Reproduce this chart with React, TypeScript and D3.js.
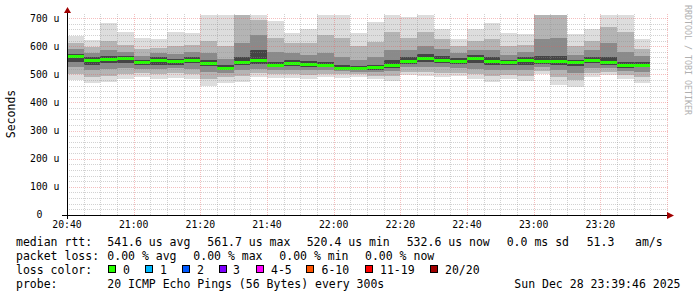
import React from "react";
import * as d3 from "d3";

// RTT samples per 5-minute step (microseconds), 35 steps from 20:40
const minRtt = [480, 468, 474, 482, 491, 482, 488, 482, 458, 470, 474, 490, 486, 486, 482, 491, 486, 491, 482, 477, 497, 493, 489, 493, 482, 474, 482, 477, 501, 462, 454, 491, 497, 483, 470];
const p10Rtt = [500, 490, 495, 500, 505, 500, 505, 500, 485, 490, 495, 505, 500, 500, 498, 503, 500, 500, 495, 495, 510, 508, 505, 505, 500, 495, 498, 495, 512, 490, 480, 505, 510, 498, 490];
const p25Rtt = [525, 515, 520, 522, 520, 518, 522, 520, 510, 505, 515, 520, 515, 515, 515, 515, 512, 510, 508, 512, 525, 525, 525, 522, 520, 515, 515, 515, 525, 515, 505, 522, 522, 512, 510];
const p40Rtt = [545, 535, 540, 540, 532, 535, 535, 540, 528, 515, 532, 538, 525, 530, 527, 525, 518, 516, 517, 524, 538, 545, 540, 538, 542, 535, 532, 535, 537, 535, 530, 540, 533, 524, 525];
const medianRtt = [562, 550, 553, 555, 541, 548, 544, 551, 538, 521, 541, 550, 530, 539, 534, 531, 522, 520, 523, 531, 547, 558, 550, 546, 556, 547, 541, 548, 544, 544, 541, 551, 541, 531, 533];
const p60Rtt = [572, 560, 565, 565, 550, 560, 555, 562, 552, 532, 560, 585, 545, 552, 548, 545, 535, 530, 535, 550, 560, 572, 565, 558, 568, 560, 552, 560, 565, 565, 552, 562, 560, 545, 545];
const p75Rtt = [590, 575, 585, 580, 565, 575, 572, 580, 575, 555, 610, 640, 580, 575, 570, 575, 560, 550, 560, 585, 585, 600, 590, 575, 588, 585, 570, 580, 625, 630, 570, 585, 610, 580, 565];
const p90Rtt = [610, 598, 620, 605, 590, 595, 600, 605, 620, 600, 711, 695, 630, 610, 610, 640, 630, 600, 615, 650, 630, 650, 625, 600, 620, 625, 600, 605, 711, 711, 600, 620, 670, 650, 590];
const maxRtt = [636, 622, 681, 650, 628, 624, 650, 646, 711, 711, 711, 711, 689, 646, 663, 711, 711, 646, 685, 711, 705, 711, 663, 624, 661, 681, 647, 643, 711, 711, 643, 663, 711, 711, 624];

const yTickValues = [0, 100, 200, 300, 400, 500, 600, 700];
const yTickLabels = ["0", "100 u", "200 u", "300 u", "400 u", "500 u", "600 u", "700 u"];

const lossLabels = ["0", "1", "2", "3", "4-5", "6-10", "11-19", "20/20"];
const lossColors = ["#26ff00", "#00b8ff", "#0059ff", "#7e00ff", "#ff00ff", "#ff5500", "#ff0000", "#a10000"];

const MONO = "'DejaVu Sans Mono', monospace";

export default function App() {
  const T0 = new Date(2025, 11, 28, 20, 40);
  const T1 = new Date(2025, 11, 28, 23, 40);
  const x = d3.scaleTime().domain([T0, T1]).range([67, 667]);
  const yMax = 711;
  const y = d3.scaleLinear().domain([0, yMax]).range([215, 15]);
  const yc = (v: number) => y(Math.min(v, yMax));

  const cols = medianRtt.map((m, i) => {
    const s = d3.timeMinute.offset(T0, 5 * i);
    const e = d3.timeMinute.offset(T0, 5 * (i + 1));
    return { x0: x(s), x1: x(e), i };
  });

  const bands: [number[], number[], string][] = [
    [minRtt, maxRtt, "#dddddd"],
    [p10Rtt, p90Rtt, "#b4b4b4"],
    [p25Rtt, p75Rtt, "#8a8a8a"],
    [p40Rtt, p60Rtt, "#454545"],
  ];

  const minorX = d3.timeMinute.every(5)!.range(T0, d3.timeMinute.offset(T1, 1)).filter((d) => d.getMinutes() % 20 !== 0);
  const majorX = d3.timeMinute.every(20)!.range(T0, d3.timeMinute.offset(T1, 1));
  const minorY = d3.range(20, 711, 20).filter((v) => v % 100 !== 0);
  const fmt = d3.timeFormat("%H:%M");

  const legendPiece = (t: string, px: number, py: number, anchor = "start") => (
    <text x={px} y={py} textAnchor={anchor} style={{ whiteSpace: "pre" }}>{t}</text>
  );

  const boxX = [108.5, 145.5, 182.5, 219.5, 256.5, 306.5, 365.5, 430.5];
  const lblX = [123, 160, 197, 233, 271, 321.5, 380, 445];

  return (
    <div style={{ position: "fixed", left: 0, top: 0 }}>
      <svg width={697} height={297} style={{ display: "block", background: "#ffffff" }}>
        <rect x={0} y={0} width={697} height={297} fill="#ffffff" />
        {/* smoke */}
        {bands.map(([lo, hi, c], bi) => (
          <g key={bi}>
            {cols.map((col) => (
              <rect key={col.i} x={col.x0} width={col.x1 - col.x0} y={yc(hi[col.i])} height={yc(lo[col.i]) - yc(hi[col.i])} fill={c} shapeRendering="crispEdges" />
            ))}
          </g>
        ))}
        {/* median */}
        {cols.map((col) => (
          <rect key={col.i} x={col.x0} width={col.x1 - col.x0} y={y(medianRtt[col.i]) - 1.5} height={3} fill="#26ff00" shapeRendering="crispEdges" />
        ))}
        {/* grid */}
        <g strokeWidth={1} strokeDasharray="1,1" shapeRendering="crispEdges">
          {minorY.map((v) => (
            <line key={"my" + v} x1={67} x2={668} y1={Math.round(y(v)) + 0.5} y2={Math.round(y(v)) + 0.5} stroke="#8f8f8f" strokeOpacity={0.4} />
          ))}
          {minorX.map((d) => (
            <line key={"mx" + d.getTime()} x1={Math.round(x(d)) + 0.5} x2={Math.round(x(d)) + 0.5} y1={14} y2={215} stroke="#8f8f8f" strokeOpacity={0.4} />
          ))}
          {yTickValues.filter((v) => v > 0).map((v) => (
            <line key={"My" + v} x1={67} x2={668} y1={Math.round(y(v)) + 0.5} y2={Math.round(y(v)) + 0.5} stroke="#e65c5c" strokeOpacity={0.4} />
          ))}
          {majorX.filter((d) => d > T0).map((d) => (
            <line key={"Mx" + d.getTime()} x1={Math.round(x(d)) + 0.5} x2={Math.round(x(d)) + 0.5} y1={14} y2={215} stroke="#e65c5c" strokeOpacity={0.4} />
          ))}
        </g>
        {/* axes */}
        <line x1={62} x2={670} y1={215.5} y2={215.5} stroke="#000" strokeWidth={1} />
        <line x1={67.5} x2={67.5} y1={219} y2={11} stroke="#000" strokeWidth={1} />
        <path d="M667,212 L674,215.5 L667,219 Z" fill="#a10000" />
        <path d="M64,13 L67.5,7 L71,13 Z" fill="#a10000" />
        {/* y tick labels */}
        <g fontFamily={MONO} fontSize={9.8} fill="#000">
          {yTickValues.map((v, i) => (
            <text key={v} x={v === 0 ? 42.5 : 59.5} y={y(v)} dy="0.35em" textAnchor="end">{yTickLabels[i]}</text>
          ))}
          {majorX.filter((d) => d < T1).map((d) => (
            <text key={d.getTime()} x={x(d)} y={228} textAnchor="middle">{fmt(d)}</text>
          ))}
        </g>
        <text transform="translate(14.5,114) rotate(-90)" textAnchor="middle" fontFamily={MONO} fontSize={11.5} fill="#000">Seconds</text>
        <text transform="translate(685,5) rotate(90)" textAnchor="start" fontFamily={MONO} fontSize={8.3} fill="#b0b0b0">RRDTOOL / TOBI OETIKER</text>
        {/* legend */}
        <g fontFamily={MONO} fontSize={11.5} fill="#000">
          {legendPiece("median rtt:", 16, 245.5)}
          {legendPiece("541.6 us avg", 107.3, 245.5)}
          {legendPiece("561.7 us max", 207.3, 245.5)}
          {legendPiece("520.4 us min", 306.7, 245.5)}
          {legendPiece("532.6 us now", 406.7, 245.5)}
          {legendPiece("0.0 ms sd", 506.7, 245.5)}
          {legendPiece("51.3", 586.7, 245.5)}
          {legendPiece("am/s", 635, 245.5)}
          {legendPiece("packet loss:", 16, 259.5)}
          {legendPiece("0.00 % avg", 107.3, 259.5)}
          {legendPiece("0.00 % max", 193.3, 259.5)}
          {legendPiece("0.00 % min", 279.3, 259.5)}
          {legendPiece("0.00 % now", 365, 259.5)}
          {legendPiece("loss color:", 16, 273.5)}
          {lossLabels.map((l, i) => (
            <g key={l}>
              <rect x={boxX[i]} y={265.5} width={7} height={7} fill={lossColors[i]} stroke="#000" strokeWidth={1} />
              <text x={lblX[i]} y={273.5}>{l}</text>
            </g>
          ))}
          {legendPiece("probe:", 16, 287.5)}
          {legendPiece("20 ICMP Echo Pings (56 Bytes) every 300s", 107.3, 287.5)}
          {legendPiece("Sun Dec 28 23:39:46 2025", 680.5, 287.5, "end")}
        </g>
      </svg>
    </div>
  );
}
